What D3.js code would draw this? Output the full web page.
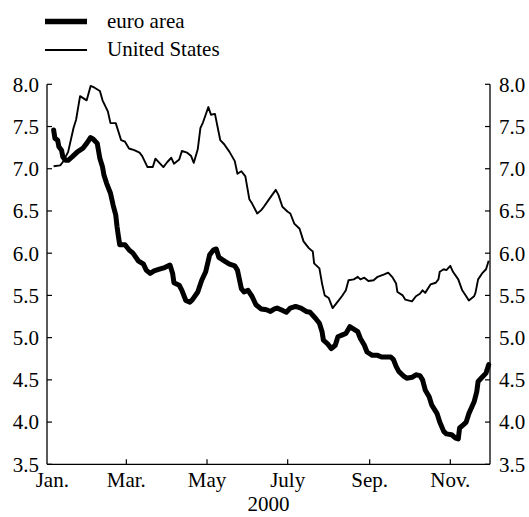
<!DOCTYPE html>
<html>
<head>
<meta charset="utf-8">
<script src="https://cdn.jsdelivr.net/npm/d3@7/dist/d3.min.js"></script>
<style>
  html, body { margin: 0; padding: 0; background: #fff; }
  svg text { font-family: "Liberation Serif", "Times New Roman", serif; fill: #000; }
</style>
</head>
<body>
<svg id="chart" width="529" height="517"></svg>
<script>
// Day of year 2000 (0 = 1 January) and values
const euroDays = [5,6,8,9,11,12,14,16,19,23,27,30,33,35,38,40,42,43,45,48,50,52,53,54,55,59,62,65,69,73,75,78,81,85,89,93,95,96,100,102,105,108,110,114,117,120,123,126,128,130,134,138,142,144,147,149,152,155,158,162,166,169,172,174,177,181,184,188,192,196,199,203,206,208,209,212,215,218,220,223,226,229,231,235,237,240,242,246,250,253,258,260,262,264,266,270,272,276,279,282,284,286,289,291,295,297,300,302,306,309,311,312,315,317,319,323,325,326,329,332,334];
const euroVals = [7.46,7.36,7.34,7.26,7.22,7.14,7.10,7.10,7.14,7.20,7.24,7.30,7.37,7.35,7.30,7.12,7.02,6.93,6.83,6.71,6.57,6.45,6.31,6.20,6.10,6.10,6.04,6.00,5.91,5.87,5.80,5.76,5.79,5.81,5.83,5.86,5.76,5.65,5.62,5.56,5.44,5.42,5.45,5.54,5.68,5.78,5.98,6.04,6.05,5.95,5.91,5.87,5.85,5.80,5.58,5.54,5.56,5.49,5.39,5.34,5.33,5.31,5.34,5.35,5.33,5.30,5.35,5.37,5.35,5.31,5.30,5.23,5.17,5.07,4.97,4.93,4.87,4.91,5.01,5.03,5.05,5.13,5.11,5.07,4.99,4.91,4.83,4.79,4.79,4.77,4.77,4.77,4.74,4.66,4.60,4.54,4.52,4.53,4.56,4.55,4.50,4.38,4.30,4.20,4.10,4.00,3.89,3.86,3.85,3.81,3.80,3.93,3.97,4.00,4.10,4.24,4.36,4.48,4.53,4.58,4.68];

const usDays = [5,10,12,16,20,22,25,30,33,36,40,42,46,48,52,56,59,62,66,70,72,76,80,82,85,88,91,94,96,100,102,106,109,111,114,116,118,120,122,124,127,131,134,138,142,144,147,150,153,155,159,162,164,168,173,175,178,182,184,187,191,194,198,201,202,206,208,210,213,216,220,223,226,228,232,235,237,240,243,247,250,255,258,261,264,265,269,271,276,279,282,284,286,290,294,296,297,300,302,305,307,311,314,317,319,323,324,326,329,332,334];
const usVals = [7.03,7.04,7.08,7.20,7.48,7.58,7.86,7.81,7.98,7.96,7.92,7.81,7.68,7.54,7.54,7.34,7.32,7.24,7.22,7.19,7.15,7.02,7.02,7.12,7.07,7.02,7.08,7.13,7.06,7.11,7.21,7.19,7.15,7.07,7.23,7.48,7.55,7.64,7.73,7.64,7.65,7.34,7.29,7.20,7.09,6.94,6.97,6.91,6.64,6.59,6.47,6.51,6.55,6.64,6.75,6.69,6.55,6.49,6.47,6.35,6.29,6.14,6.06,6.02,5.88,5.82,5.64,5.50,5.47,5.35,5.43,5.49,5.56,5.68,5.69,5.72,5.69,5.71,5.67,5.68,5.72,5.75,5.77,5.72,5.64,5.54,5.50,5.45,5.43,5.49,5.52,5.56,5.53,5.63,5.65,5.69,5.78,5.81,5.80,5.85,5.78,5.69,5.56,5.49,5.44,5.49,5.53,5.69,5.76,5.81,5.91];

const yTicks = [3.5, 4.0, 4.5, 5.0, 5.5, 6.0, 6.5, 7.0, 7.5, 8.0];
const xTickDates = ["2000-01-05", "2000-03-01", "2000-05-01", "2000-07-01", "2000-09-01", "2000-11-01"];
const xTickLabels = ["Jan.", "Mar.", "May", "July", "Sep.", "Nov."];
const seriesNames = ["euro area", "United States"];
const yearLabel = "2000";

(function () {
const svg = d3.select("#chart");
const mLeft = 47, mRight = 490, mTop = 84.3, mBottom = 464.3;
const start = new Date(2000, 0, 1);
const toDate = d => d3.timeDay.offset(start, d);
const parse = d3.timeParse("%Y-%m-%d");

const x = d3.scaleTime().domain([start, new Date(2000, 11, 1)]).range([mLeft, mRight]);
const y = d3.scaleLinear().domain([3.5, 8.0]).range([mBottom, mTop]);

const fs = 21;

// axes
const axisG = svg.append("g");
axisG.append("line").attr("x1", mLeft).attr("x2", mLeft).attr("y1", y(8.0)).attr("y2", mBottom)
  .attr("stroke", "#000").attr("stroke-width", 1.3);
axisG.append("line").attr("x1", mRight).attr("x2", mRight).attr("y1", y(8.0)).attr("y2", mBottom)
  .attr("stroke", "#000").attr("stroke-width", 1.3);
axisG.append("line").attr("x1", mLeft).attr("x2", mRight).attr("y1", mBottom).attr("y2", mBottom)
  .attr("stroke", "#000").attr("stroke-width", 1.3);

yTicks.forEach(v => {
  axisG.append("line").attr("x1", mLeft).attr("x2", mLeft + 5).attr("y1", y(v)).attr("y2", y(v))
    .attr("stroke", "#000").attr("stroke-width", 1.2);
  axisG.append("line").attr("x1", mRight - 5).attr("x2", mRight).attr("y1", y(v)).attr("y2", y(v))
    .attr("stroke", "#000").attr("stroke-width", 1.2);
  axisG.append("text").attr("x", mLeft - 8).attr("y", y(v)).attr("dy", "0.35em")
    .attr("text-anchor", "end").attr("font-size", fs).text(v.toFixed(1));
  axisG.append("text").attr("x", mRight + 9).attr("y", y(v)).attr("dy", "0.35em")
    .attr("text-anchor", "start").attr("font-size", fs).text(v.toFixed(1));
});

xTickDates.forEach((s, i) => {
  const px = x(parse(s));
  if (i > 0) {
    axisG.append("line").attr("x1", px).attr("x2", px).attr("y1", mBottom - 5).attr("y2", mBottom)
      .attr("stroke", "#000").attr("stroke-width", 1.2);
  }
  axisG.append("text").attr("x", px).attr("y", mBottom + 23)
    .attr("text-anchor", "middle").attr("font-size", fs).text(xTickLabels[i]);
});
svg.append("text").attr("x", (mLeft + mRight) / 2).attr("y", mBottom + 47)
  .attr("text-anchor", "middle").attr("font-size", fs).text(yearLabel);

// lines
const line = d3.line().x(d => x(d.date)).y(d => y(d.v));
const euro = euroDays.map((d, i) => ({ date: toDate(d), v: euroVals[i] }));
const us = usDays.map((d, i) => ({ date: toDate(d), v: usVals[i] }));

svg.append("path").datum(us).attr("d", line).attr("fill", "none")
  .attr("stroke", "#000").attr("stroke-width", 1.9).attr("stroke-linejoin", "round");
svg.append("path").datum(euro).attr("d", line).attr("fill", "none")
  .attr("stroke", "#000").attr("stroke-width", 5).attr("stroke-linejoin", "round").attr("stroke-linecap", "round");

// legend
const legend = svg.append("g");
const widths = [5.5, 2];
const ly = [21.5, 50];
seriesNames.forEach((n, i) => {
  legend.append("line").attr("x1", 45).attr("x2", 87).attr("y1", ly[i]).attr("y2", ly[i])
    .attr("stroke", "#000").attr("stroke-width", widths[i]);
  legend.append("text").attr("x", 107).attr("y", ly[i]).attr("dy", "0.3em")
    .attr("font-size", fs).text(n);
});
})();
</script>
</body>
</html>
